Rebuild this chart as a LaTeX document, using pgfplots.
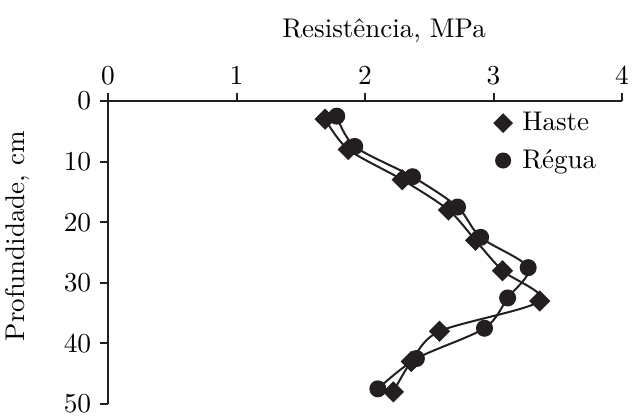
\documentclass[border=0pt]{standalone}
\usepackage{pgfplots}
\pgfplotsset{compat=1.18}
\definecolor{ink}{HTML}{231F20}
\begin{document}
\begin{tikzpicture}
\begin{axis}[
  scale only axis, width=205.6pt, height=121.2pt,
  xmin=0, xmax=4, ymin=0, ymax=50, y dir=reverse,
  axis x line*=top, axis y line*=left,
  xtick={0,1,2,3,4}, ytick={0,10,20,30,40,50},
  tick align=outside, major tick length=3.2pt,
  axis line style={ink, line width=0.8pt},
  every tick/.style={ink, line width=0.8pt},
  font=\fontsize{10.8}{13}\selectfont,
  xlabel={Resistência, MPa}, ylabel={Profundidade, cm},
  xlabel style={at={(axis description cs:0.537,1)}, anchor=base, yshift=25.2pt},
  ylabel style={at={(axis description cs:0,0.554)}, anchor=center, rotate=0, yshift=36pt},
  clip=false,
  legend style={draw=none, fill=none, at={(axis description cs:0.745,0.99)}, anchor=north west,
    font=\fontsize{10.8}{13}\selectfont, row sep=2pt, inner sep=1pt},
  legend cell align=left,
]
\addlegendimage{only marks, ink, mark=square*, mark size=2.6pt, mark options={rotate=45, fill=ink}}
\addlegendentry{\hspace*{2pt}Haste}
\addlegendimage{only marks, ink, mark=*, mark size=3pt, mark options={fill=ink}}
\addlegendentry{\hspace*{2pt}Régua}
\addplot[ink, line width=0.8pt, smooth, mark=square*, mark size=2.6pt, mark options={rotate=45, fill=ink}, forget plot]
  coordinates {(1.69,3) (1.87,8) (2.29,13) (2.65,18) (2.86,23) (3.07,28) (3.36,33) (2.58,38) (2.36,43) (2.22,48)};
\addplot[ink, line width=0.8pt, smooth, mark=*, mark size=3pt, mark options={fill=ink}, forget plot]
  coordinates {(1.78,2.5) (1.92,7.5) (2.37,12.5) (2.72,17.5) (2.90,22.5) (3.27,27.5) (3.11,32.5) (2.93,37.5) (2.40,42.5) (2.10,47.5)};
\end{axis}
\pgfresetboundingbox
\path ([shift={(-43.2pt,-4.8pt)}]current axis.south west) rectangle ([shift={(4.4pt,40.4pt)}]current axis.north east);
\end{tikzpicture}
\end{document}
